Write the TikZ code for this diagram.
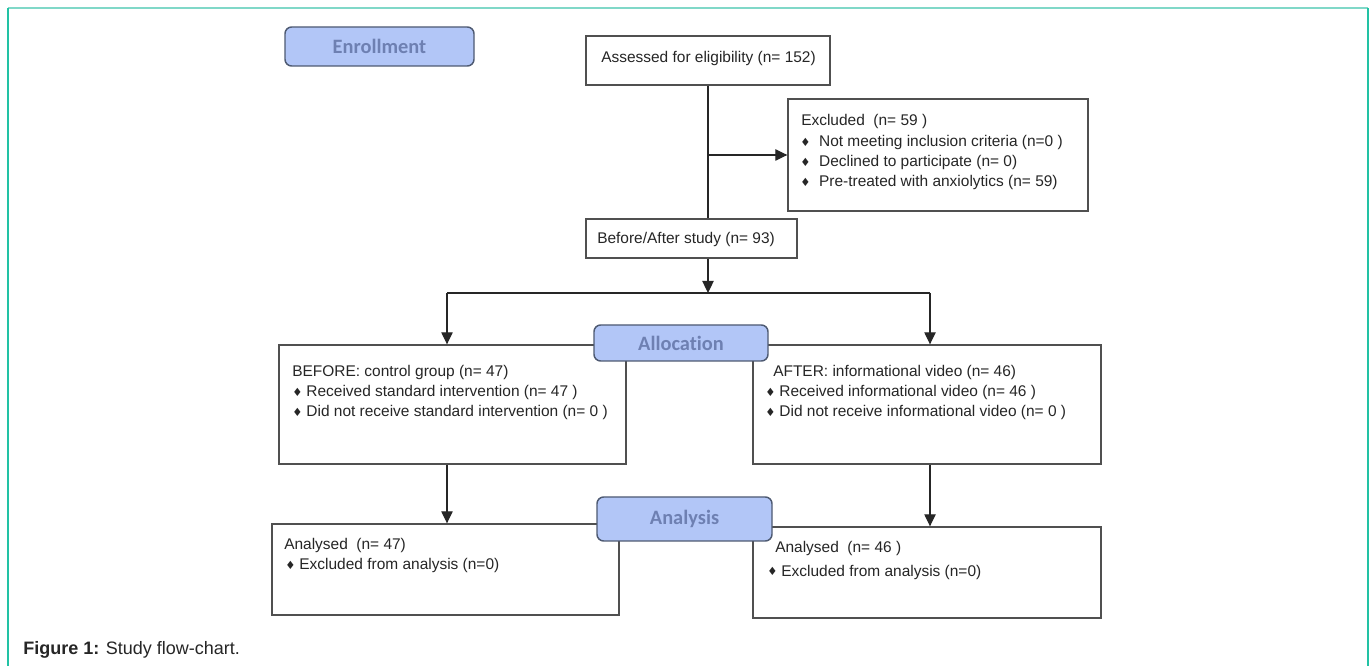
\documentclass[tikz,border=0pt]{standalone}
\usepackage{fontspec}
\setmainfont{Liberation Sans}
\newfontfamily\carlito[Ligatures=NoCommon]{Carlito}
\newfontfamily\dejavu{DejaVu Sans}
\usetikzlibrary{fit,arrows.meta,calc}
\definecolor{boxgray}{HTML}{505050}
\definecolor{linecol}{HTML}{262626}
\definecolor{txtcol}{HTML}{262626}
\definecolor{phasefill}{HTML}{B2C6F7}
\definecolor{phaseborder}{HTML}{4E5A72}
\definecolor{phasetext}{HTML}{6E80B2}
\definecolor{frameside}{HTML}{22C2A4}
\definecolor{frametop}{HTML}{80D8C8}
\newcommand\bul{\raisebox{0.2pt}{\dejavu\fontsize{8.5}{9}\selectfont ♦}}
\begin{document}
\begin{tikzpicture}[x=0.75pt,y=-0.75pt,
  box/.style={draw=boxgray,line width=1pt,inner sep=0pt,fill=white},
  phase/.style={draw=phaseborder,fill=phasefill,rounded corners=5pt,line width=1.1pt,inner sep=0pt,
    text=phasetext,font=\carlito\bfseries\fontsize{15.3}{18}\selectfont},
  txt/.style={anchor=base west,inner sep=0pt,text=txtcol,font=\fontsize{11.6}{14}\selectfont},
  conn/.style={draw=linecol,line width=0.9pt},
  arr/.style={conn,-{Triangle[length=9pt,width=8.5pt]}}]
\useasboundingbox (0,0) rectangle (1372,666);
\fill[white] (0,0) rectangle (1372,666);
% frame
\draw[frametop,line width=1.9pt] (8,8) -- (1368,8);
\draw[frameside,line width=1.6pt] (8,8) -- (8,666);
\draw[frameside,line width=1.6pt] (1368,8) -- (1368,666);

% boxes
\node[box,fit={(586,36)(830,85)}] (assess) {};
\node[box,fit={(788,99)(1088,211)}] (excl) {};
\node[box,fit={(586,219)(797,258)}] (ba) {};
\node[box,fit={(279,345)(626,464)}] (bef) {};
\node[box,fit={(753,345)(1101,464)}] (aft) {};
\node[box,fit={(272,524)(619,615)}] (anl) {};
\node[box,fit={(753,527)(1101,618)}] (anr) {};

% connectors
\coordinate (j1) at (708,155);
\coordinate (jm) at (708,293);
\coordinate (jl) at (447,293);
\coordinate (jr) at (930,293);
\draw[conn] (assess.south -| j1) -- (ba.north -| j1);
\draw[arr] (j1) -- (excl.west |- j1);
\draw[arr] (ba.south -| jm) -- (jm);
\draw[conn] (jl) -- (jr);
\draw[arr] (jl) -- (bef.north -| jl);
\draw[arr] (jr) -- (aft.north -| jr);
\draw[arr] (bef.south -| jl) -- (anl.north -| jl);
\draw[arr] (aft.south -| jr) -- (anr.north -| jr);

% phase labels
\node[phase,minimum width=141.75pt,minimum height=29.25pt] (enr) at (379.5,46.5) {Enrollment};
\node[phase,minimum width=130.5pt,minimum height=27pt] (alloc) at (681,343) {Allocation};
\node[phase,minimum width=131.25pt,minimum height=33pt] (anal) at (684.5,519) {Analysis};

% texts
\node[txt] (t1) at (601,63) {Assessed for eligibility (n= 152)};
\node[txt] (t2) at (801,126) {Excluded\ \ (n= 59 )};
\node[txt] (t3) at (800,147) {\bul\hspace{6.5pt}Not meeting inclusion criteria (n=0 )};
\node[txt] (t4) at (800,167) {\bul\hspace{6.5pt}Declined to participate (n= 0)};
\node[txt] (t5) at (800,187) {\bul\hspace{6.5pt}Pre-treated with anxiolytics (n= 59)};
\node[txt] (t6) at (597,244) {Before/After study (n= 93)};
\node[txt] (t7) at (292,377) {BEFORE: control group (n= 47)};
\node[txt] (t8) at (292,397) {\bul\hspace{3pt}Received standard intervention (n= 47 )};
\node[txt] (t9) at (292,417) {\bul\hspace{3pt}Did not receive standard intervention (n= 0 )};
\node[txt] (t10) at (773,377) {AFTER: informational video (n= 46)};
\node[txt] (t11) at (765,397) {\bul\hspace{3pt}Received informational video (n= 46 )};
\node[txt] (t12) at (765,417) {\bul\hspace{3pt}Did not receive informational video (n= 0 )};
\node[txt] (t13) at (284,550) {Analysed\ \ (n= 47)};
\node[txt] (t14) at (285,570) {\bul\hspace{3pt}Excluded from analysis (n=0)};
\node[txt] (t15) at (775,553) {Analysed\ \ (n= 46 )};
\node[txt] (t16) at (767,576) {\bul\hspace{3pt}Excluded from analysis (n=0)};

% caption
\node[anchor=base west,inner sep=0pt,text=txtcol,font=\fontsize{13.5}{16}\selectfont] (cap) at (23,654) {\textbf{Figure 1:} Study flow-chart.};
\end{tikzpicture}
\end{document}
